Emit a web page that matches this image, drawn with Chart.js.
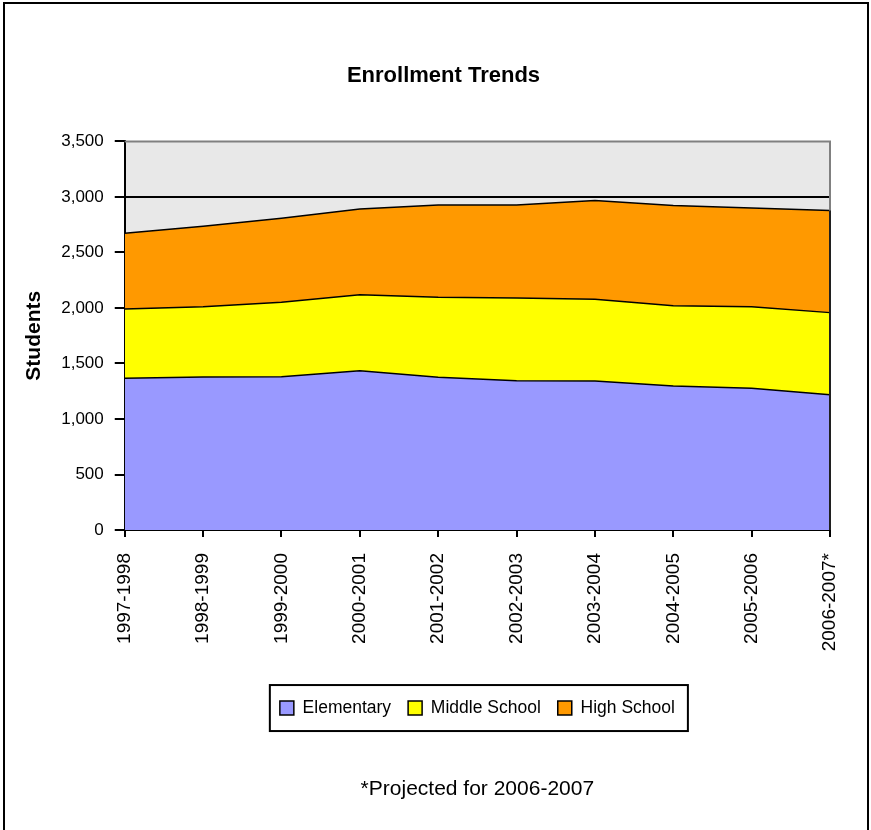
<!DOCTYPE html>
<html>
<head>
<meta charset="utf-8">
<title>Enrollment Trends</title>
<script src="https://cdn.jsdelivr.net/npm/chart.js@4"></script>
<style>
  html, body { margin: 0; padding: 0; background: #fff; }
  #wrap { width: 871px; height: 830px; }
</style>
</head>
<body>
<div id="wrap"><canvas id="enrollChart" width="871" height="830"></canvas></div>
<script>
// school years (last one is a projection)
const anos = ['1997-1998', '1998-1999', '1999-2000', '2000-2001', '2001-2002',
              '2002-2003', '2003-2004', '2004-2005', '2005-2006', '2006-2007*'];

// students per level, stacked in this order
const elementary   = [1367, 1378, 1381, 1435, 1375, 1345, 1342, 1297, 1277, 1219];
const middleSchool = [624, 634, 670, 685, 721, 745, 736, 724, 735, 739];
const highSchool   = [682, 724, 757, 772, 832, 838, 889, 901, 889, 919];

const yMax = 3500;
const yStep = 500;

const fonte = 'Arial, "Liberation Sans", sans-serif';

// plot background, outer frame, gray plot border, legend frame
const molduras = {
    id: 'molduras',
    afterLayout(chart) {
        // title sits a bit right of the canvas centre
        chart.titleBlock.left += 20;
        chart.titleBlock.right += 20;
    },
    beforeDraw(chart) {
        const ctx = chart.ctx;
        const a = chart.chartArea;
        ctx.save();
        ctx.fillStyle = '#fff';
        ctx.fillRect(0, 0, chart.width, chart.height);
        ctx.fillStyle = '#e8e8e8';
        ctx.fillRect(a.left, a.top, a.right - a.left, a.bottom - a.top);
        ctx.strokeStyle = '#000';
        ctx.lineWidth = 2;
        ctx.strokeRect(4, 3, 864, 900);
        ctx.restore();
    },
    afterDraw(chart) {
        const ctx = chart.ctx;
        const a = chart.chartArea;
        ctx.save();
        ctx.strokeStyle = '#808080';
        ctx.lineWidth = 2;
        ctx.beginPath();
        ctx.moveTo(a.left, a.top);
        ctx.lineTo(a.right, a.top);
        ctx.lineTo(a.right, a.bottom);
        ctx.stroke();

        // closing edge of the stacked areas on the right side
        const topo = chart.getDatasetMeta(2).data;
        ctx.strokeStyle = '#000';
        ctx.lineWidth = 1.5;
        ctx.beginPath();
        ctx.moveTo(a.right, topo[topo.length - 1].y);
        ctx.lineTo(a.right, a.bottom);
        ctx.stroke();

        const caixas = chart.legend.legendHitBoxes;
        if (caixas && caixas.length) {
            let x0 = Infinity, x1 = -Infinity, y0 = Infinity, y1 = -Infinity;
            caixas.forEach(b => {
                x0 = Math.min(x0, b.left);
                x1 = Math.max(x1, b.left + b.width);
                y0 = Math.min(y0, b.top);
                y1 = Math.max(y1, b.top + b.height);
            });
            const meio = (y0 + y1) / 2;
            ctx.lineWidth = 2;
            ctx.strokeRect(x0 - 10, meio - 23, (x1 - x0) + 23, 46);
        }
        ctx.restore();
    }
};

document.addEventListener('DOMContentLoaded', function () {
    const ctx = document.getElementById('enrollChart').getContext('2d');
    new Chart(ctx, {
        type: 'line',
        data: {
            labels: anos,
            datasets: [{
                label: 'Elementary',
                data: elementary,
                backgroundColor: '#9999ff',
                borderColor: '#000',
                borderWidth: 1.5,
                fill: 'origin'
            }, {
                label: 'Middle School',
                data: middleSchool,
                backgroundColor: '#ffff00',
                borderColor: '#000',
                borderWidth: 1.5,
                fill: '-1'
            }, {
                label: 'High School',
                data: highSchool,
                backgroundColor: '#ff9900',
                borderColor: '#000',
                borderWidth: 1.5,
                fill: '-1'
            }]
        },
        options: {
            responsive: false,
            animation: false,
            elements: {
                point: { radius: 0, hoverRadius: 0 },
                line: { tension: 0 }
            },
            layout: { padding: { left: 17, right: 41, top: 0, bottom: 0 } },
            scales: {
                x: {
                    offset: false,
                    border: { color: '#000', width: 2 },
                    grid: { drawOnChartArea: false, color: '#000', tickLength: 7, lineWidth: 2 },
                    ticks: {
                        autoSkip: false,
                        maxRotation: 90,
                        minRotation: 90,
                        padding: 16,
                        color: '#000',
                        font: { family: fonte, size: 19 }
                    },
                    afterFit(eixo) {
                        eixo.height += 15;
                    }
                },
                y: {
                    stacked: true,
                    min: 0,
                    max: yMax,
                    border: { color: '#000', width: 2 },
                    grid: {
                        color: c => c.tick && c.tick.value === yMax ? 'rgba(0,0,0,0)' : '#000',
                        tickColor: '#000',
                        tickLength: 10,
                        lineWidth: 2
                    },
                    ticks: {
                        stepSize: yStep,
                        padding: 11,
                        color: '#000',
                        font: { family: fonte, size: 17 }
                    },
                    title: {
                        display: true,
                        text: 'Students',
                        color: '#000',
                        padding: { top: 5, bottom: 3 },
                        font: { family: fonte, size: 21, weight: 'bold' }
                    }
                }
            },
            plugins: {
                title: {
                    display: true,
                    text: 'Enrollment Trends',
                    color: '#000',
                    padding: { top: 63, bottom: 52 },
                    font: { family: fonte, size: 22, weight: 'bold' }
                },
                subtitle: {
                    display: true,
                    position: 'bottom',
                    fullSize: false,
                    text: '*Projected for 2006-2007',
                    color: '#000',
                    padding: { top: 50, bottom: 28 },
                    font: { family: fonte, size: 21, weight: 'normal' }
                },
                legend: {
                    position: 'bottom',
                    fullSize: false,
                    labels: {
                        color: '#000',
                        boxWidth: 14,
                        boxHeight: 14,
                        padding: 17,
                        font: { family: fonte, size: 17.5 }
                    }
                },
                tooltip: { enabled: false }
            }
        },
        plugins: [molduras]
    });
});
</script>
</body>
</html>
